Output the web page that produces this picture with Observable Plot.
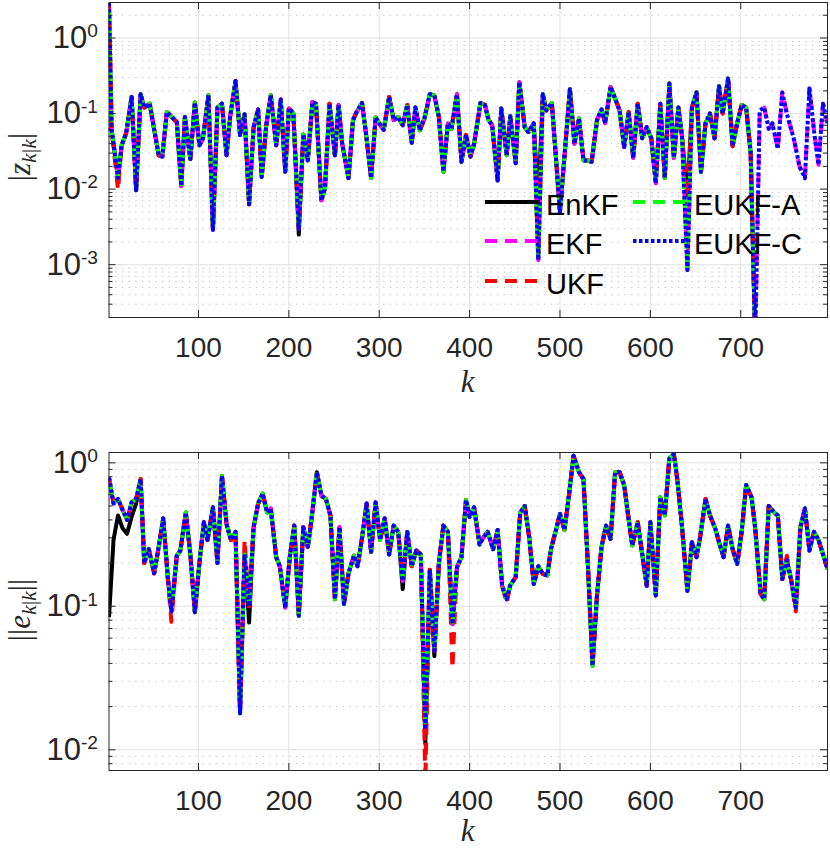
<!DOCTYPE html>
<html><head><meta charset="utf-8">
<script src="https://cdn.jsdelivr.net/npm/d3@7"></script>
<script src="https://cdn.jsdelivr.net/npm/@observablehq/plot@0.6"></script>
<style>
body{margin:0;background:#fff}
#fig{width:830px;height:849px;position:relative;background:#fff}
#fig svg{display:block}
</style>
</head><body><div id="fig"></div>
<script>
// ---------------- data ----------------
const seriesNames = ["EnKF", "EKF", "UKF", "EUKF-A", "EUKF-C"];

// |z_{k|k}| : curve shared by EKF, EUKF-A and EUKF-C
const zShared = [[1,2.9],[4,0.06],[11,0.014],[15,0.038],[20,0.055],[26,0.166],[31,0.0097],[36,0.18],[40,0.12],[46,0.135],[56,0.028],[60,0.027],[65,0.105],[72,0.086],[76,0.077],[81,0.011],[85,0.09],[91,0.025],[96,0.14],[101,0.038],[105,0.047],[111,0.175],[116,0.0029],[121,0.12],[126,0.135],[131,0.028],[135,0.09],[141,0.27],[146,0.052],[151,0.098],[156,0.0063],[161,0.066],[166,0.113],[170,0.0145],[175,0.07],[180,0.175],[186,0.038],[191,0.153],[196,0.017],[200,0.117],[205,0.1],[211,0.003],[216,0.053],[221,0.024],[226,0.142],[230,0.135],[236,0.0071],[240,0.0103],[245,0.135],[251,0.028],[255,0.13],[259,0.04],[266,0.014],[271,0.082],[275,0.105],[281,0.138],[286,0.047],[291,0.014],[296,0.089],[300,0.074],[305,0.061],[311,0.166],[316,0.082],[321,0.09],[326,0.07],[331,0.13],[336,0.041],[340,0.12],[345,0.06],[350,0.086],[356,0.18],[361,0.174],[366,0.09],[371,0.017],[376,0.074],[380,0.063],[386,0.18],[391,0.023],[396,0.052],[401,0.027],[405,0.04],[412,0.138],[417,0.13],[421,0.082],[425,0.07],[431,0.013],[435,0.117],[441,0.028],[445,0.092],[451,0.022],[455,0.26],[461,0.066],[465,0.057],[471,0.074],[476,0.00115],[481,0.18],[485,0.11],[491,0.138],[500,0.005],[511,0.21],[516,0.04],[521,0.086],[526,0.024],[531,0.024],[535,0.023],[541,0.082],[546,0.113],[550,0.075],[556,0.225],[561,0.158],[566,0.11],[571,0.036],[576,0.105],[581,0.026],[586,0.135],[591,0.047],[596,0.066],[601,0.047],[606,0.012],[611,0.135],[616,0.014],[621,0.25],[626,0.026],[631,0.12],[635,0.05],[641,0.00085],[646,0.12],[651,0.19],[656,0.017],[661,0.074],[666,0.1],[671,0.047],[676,0.23],[680,0.1],[686,0.29],[691,0.037],[696,0.074],[701,0.13],[706,0.12],[711,0.03],[716,0.0001],[721,0.11],[726,0.12],[731,0.063],[735,0.074],[741,0.034],[746,0.19],[751,0.1],[759,0.045],[765,0.02],[771,0.014],[776,0.215],[781,0.06],[786,0.021],[791,0.135],[796,0.075]];
// points where a filter departs from the shared curve
const zEnKFDiffs = [[1,0.065],[211,0.0025],[476,0.0065],[641,0.008]];
const zUKFDiffs = [[11,0.0098],[641,0.008]];
const zLastK = 716; // EnKF, UKF, EUKF-A stop here

// ||e_{k|k}|| : curve shared by EKF, EUKF-A and EUKF-C
const eShared = [[1,0.79],[6,0.52],[11,0.56],[16,0.47],[21,0.40],[26,0.53],[31,0.56],[36,0.77],[40,0.20],[45,0.25],[51,0.17],[56,0.26],[61,0.41],[66,0.16],[70,0.092],[76,0.225],[80,0.245],[86,0.45],[91,0.23],[96,0.091],[101,0.2],[106,0.385],[110,0.29],[116,0.49],[121,0.20],[126,0.81],[131,0.375],[136,0.29],[141,0.33],[146,0.018],[151,0.23],[156,0.1],[161,0.355],[166,0.52],[171,0.61],[176,0.45],[180,0.48],[186,0.22],[190,0.19],[196,0.098],[201,0.22],[206,0.365],[211,0.086],[216,0.355],[221,0.26],[225,0.4],[231,0.86],[236,0.59],[241,0.56],[246,0.43],[251,0.112],[256,0.355],[261,0.104],[266,0.17],[272,0.225],[276,0.19],[281,0.3],[286,0.52],[291,0.24],[296,0.53],[301,0.29],[306,0.41],[311,0.23],[316,0.365],[321,0.33],[326,0.15],[331,0.33],[336,0.19],[341,0.245],[346,0.23],[351,0.0144],[356,0.18],[361,0.049],[366,0.2],[371,0.365],[376,0.33],[381,0.075],[386,0.187],[391,0.22],[396,0.55],[400,0.42],[405,0.49],[411,0.27],[415,0.3],[420,0.33],[426,0.25],[431,0.34],[436,0.139],[441,0.112],[445,0.14],[451,0.16],[456,0.45],[461,0.50],[466,0.3],[471,0.143],[476,0.19],[481,0.168],[486,0.164],[490,0.25],[495,0.33],[500,0.44],[505,0.34],[510,0.6],[515,1.12],[521,0.86],[526,0.77],[531,0.187],[536,0.0385],[541,0.12],[546,0.26],[551,0.365],[556,0.295],[561,0.86],[566,0.86],[571,0.70],[575,0.45],[580,0.265],[586,0.385],[591,0.23],[596,0.139],[600,0.385],[606,0.119],[611,0.575],[616,0.43],[621,1.07],[626,1.15],[630,0.75],[635,0.36],[641,0.128],[646,0.28],[651,0.22],[655,0.3],[661,0.56],[666,0.43],[672,0.345],[676,0.28],[681,0.22],[686,0.365],[691,0.25],[696,0.197],[701,0.33],[706,0.70],[712,0.575],[716,0.35],[722,0.122],[726,0.112],[731,0.50],[737,0.45],[741,0.43],[746,0.155],[751,0.21],[756,0.15],[761,0.098],[766,0.355],[771,0.48],[776,0.245],[781,0.33],[786,0.29],[792,0.22],[796,0.182]];
const eEnKFDiffs = [[1,0.084],[6,0.29],[11,0.43],[16,0.35],[21,0.32],[26,0.42],[31,0.52],[156,0.077],[326,0.132],[351,0.011],[361,0.045]];
const eUKFDiffs = [[70,0.078],[151,0.29],[351,0.006],[381,0.037],[441,0.105],[751,0.225],[761,0.092]];

const xTicks = [100, 200, 300, 400, 500, 600, 700];
const zTicks = [1e-3, 1e-2, 1e-1, 1];
const eTicks = [1e-2, 1e-1, 1];

// ---------------- styles ----------------
const seriesColors = {"EnKF":"#000000","EKF":"#ff00ff","UKF":"#ff0000","EUKF-A":"#00ff00","EUKF-C":"#0000ff"};
const seriesDash = {"EnKF":null,"EKF":"12,8","UKF":"12,8","EUKF-A":"12,8","EUKF-C":"3.5,2.5"};
const seriesOffset = {"EnKF":0,"EKF":0,"UKF":7,"EUKF-A":13,"EUKF-C":0};
const SW = 4;
const W = 830, ML = 108.5, MR = 3;
const FW = W - ML - MR;

function build(base, diffs, lastK) {
  const m = new Map(diffs);
  return base.filter(([k]) => lastK == null || k <= lastK)
             .map(([k, v]) => ({k, v: m.has(k) ? m.get(k) : v}));
}
const zSeries = {
  "EnKF": build(zShared, zEnKFDiffs, zLastK),
  "EKF": build(zShared, [], null),
  "UKF": build(zShared, zUKFDiffs, zLastK),
  "EUKF-A": build(zShared, [], zLastK),
  "EUKF-C": build(zShared, [], null)
};
const eSeries = {
  "EnKF": build(eShared, eEnKFDiffs, null),
  "EKF": build(eShared, [], null),
  "UKF": build(eShared, eUKFDiffs, null),
  "EUKF-A": build(eShared, [], null),
  "EUKF-C": build(eShared, [], null)
};

function minorTicks(domain) {
  const out = [];
  for (let e = -5; e <= 1; e++) for (let m = 2; m <= 9; m++) {
    const v = m * Math.pow(10, e);
    if (v > domain[0] && v < domain[1]) out.push(v);
  }
  return out;
}

function panel(seriesMap, yDomain, yTicks, height, mt, mb) {
  const FH = height - mt - mb;
  const minors = minorTicks(yDomain);
  const marks = [
    Plot.ruleY(minors, {stroke: "#bdbdbd", strokeDasharray: "1.2,5.5", strokeWidth: 1}),
    Plot.ruleY(yTicks, {stroke: "#e2e2e2", strokeWidth: 1}),
    Plot.ruleX(xTicks, {stroke: "#e2e2e2", strokeWidth: 1})
  ];
  for (const name of seriesNames) {
    marks.push(Plot.line(seriesMap[name], {
      x: "k", y: "v", stroke: seriesColors[name], strokeWidth: SW,
      strokeDasharray: seriesDash[name], strokeDashoffset: seriesOffset[name],
      strokeLinejoin: "round", strokeLinecap: "butt", clip: true
    }));
  }
  marks.push(
    Plot.tickX(xTicks, {x: d => d, stroke: "#262626", insetBottom: FH - 7}),
    Plot.tickX(xTicks, {x: d => d, stroke: "#262626", insetTop: FH - 7}),
    Plot.tickY(yTicks, {y: d => d, stroke: "#262626", insetRight: FW - 7}),
    Plot.tickY(yTicks, {y: d => d, stroke: "#262626", insetLeft: FW - 7}),
    Plot.tickY(minors, {y: d => d, stroke: "#262626", insetRight: FW - 4}),
    Plot.tickY(minors, {y: d => d, stroke: "#262626", insetLeft: FW - 4}),
    Plot.frame({stroke: "#262626", strokeWidth: 1}),
    Plot.axisX({ticks: xTicks, tickSize: 0, tickPadding: 20, tickFormat: d => String(d), label: null}),
    Plot.axisY({ticks: yTicks, tickSize: 0, tickPadding: 11, fontSize: 31, tickFormat: d => "10^" + Math.round(Math.log10(d)), label: null})
  );
  const svg = Plot.plot({
    width: W, height, marginLeft: ML, marginRight: MR, marginTop: mt, marginBottom: mb,
    style: {fontFamily: "'Liberation Sans', Arial, sans-serif", fontSize: "28px", color: "#262626", background: "transparent", overflow: "visible"},
    x: {domain: [1, 796]},
    y: {type: "log", domain: yDomain},
    marks
  });
  // superscript exponents on the log-axis labels
  d3.select(svg).selectAll('g[aria-label="y-axis tick label"] text').each(function () {
    const t = d3.select(this);
    const parts = t.text().split("^");
    t.text(null);
    t.append("tspan").text(parts[0]);
    t.append("tspan").attr("dy", "-0.55em").attr("font-size", "0.62em").text(parts[1]);
  });
  return svg;
}

function yLabel(svg, bx, cy, bars, letter) {
  const t = d3.select(svg).append("text")
    .attr("transform", `translate(${bx},${cy}) rotate(-90)`)
    .attr("text-anchor", "middle")
    .attr("font-family", "'Liberation Serif', 'DejaVu Serif', serif")
    .attr("font-size", 31).attr("fill", "#262626");
  t.append("tspan").text(bars);
  t.append("tspan").attr("font-style", "italic").text(letter);
  t.append("tspan").attr("font-size", 22).attr("dy", 6).attr("font-style", "italic").text("k");
  t.append("tspan").attr("font-size", 22).text("|");
  t.append("tspan").attr("font-size", 22).attr("font-style", "italic").text("k");
  t.append("tspan").attr("dy", -6).text(bars);
}
function xLabel(svg, y) {
  d3.select(svg).append("text").attr("x", ML + FW / 2).attr("y", y)
    .attr("text-anchor", "middle")
    .attr("font-family", "'Liberation Serif', 'DejaVu Serif', serif")
    .attr("font-style", "italic").attr("font-size", 31).attr("fill", "#262626").text("k");
}

const fig = document.getElementById("fig");

// top panel
const topSvg = panel(zSeries, [2e-4, 2.95], zTicks, 420, 2, 103);
yLabel(topSvg, 30, 157, "|", "z");
xLabel(topSvg, 392);
// legend (no box, two columns)
const legendItems = [
  {name: "EnKF", x: 485, y: 202}, {name: "EKF", x: 485, y: 241}, {name: "UKF", x: 485, y: 281},
  {name: "EUKF-A", x: 633, y: 202}, {name: "EUKF-C", x: 633, y: 241}
];
const lg = d3.select(topSvg).append("g").attr("text-anchor", "start");
for (const it of legendItems) {
  lg.append("line").attr("x1", it.x).attr("x2", it.x + 55).attr("y1", it.y).attr("y2", it.y)
    .attr("stroke", seriesColors[it.name]).attr("stroke-width", SW)
    .attr("stroke-dasharray", seriesDash[it.name]);
  lg.append("text").attr("x", it.x + 61).attr("y", it.y + 13)
    .attr("text-anchor", "start")
    .attr("font-family", "'Liberation Sans', Arial, sans-serif").attr("font-size", 29)
    .attr("fill", "#000").text(it.name);
}
fig.appendChild(topSvg);

// bottom panel
const bottomSvg = panel(eSeries, [0.00717, 1.18], eTicks, 429, 32, 79);
yLabel(bottomSvg, 30, 190, "||", "e");
xLabel(bottomSvg, 421);
fig.appendChild(bottomSvg);
</script></body></html>
